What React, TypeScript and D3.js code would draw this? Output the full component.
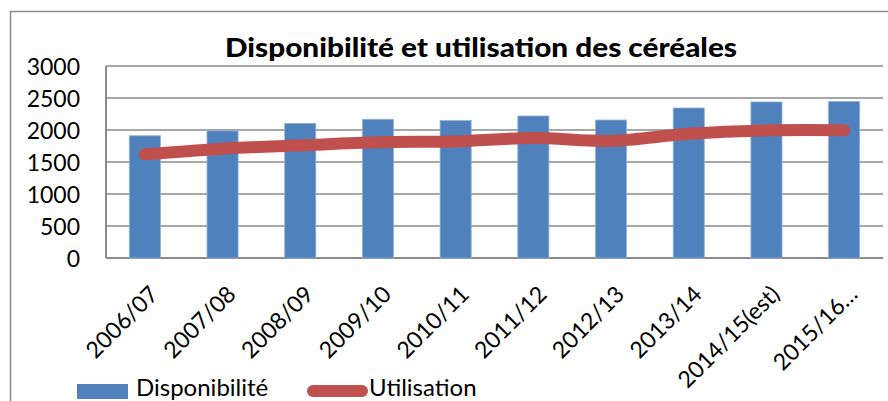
import React from "react";
import * as d3 from "d3";

const categories = [
  "2006/07",
  "2007/08",
  "2008/09",
  "2009/10",
  "2010/11",
  "2011/12",
  "2012/13",
  "2013/14",
  "2014/15(est)",
  "2015/16…",
];
const disponibilite = [1910, 1985, 2102, 2167, 2147, 2219, 2156, 2344, 2438, 2444];
const utilisation = [1620, 1708, 1760, 1808, 1822, 1875, 1830, 1940, 1995, 1998];
const yTicks = [0, 500, 1000, 1500, 2000, 2500, 3000];

const W = 888;
const H = 401;
const plot = { left: 106, right: 883, top: 66, bottom: 258 };
const FONT = "Lato, 'Noto Sans', sans-serif";
const GRID = "#8a8a8a";

export default function App() {
  const x = d3
    .scaleBand<string>()
    .domain(categories)
    .range([plot.left, plot.right])
    .paddingInner(0.6)
    .paddingOuter(0.3);
  const cx = (c: string) => (x(c) as number) + x.bandwidth() / 2;
  const y = d3.scaleLinear().domain([0, 3000]).range([plot.bottom, plot.top]);

  const line = d3
    .line<number>()
    .x((_, i) => cx(categories[i]))
    .y((v) => y(v))
    .curve(d3.curveCatmullRom.alpha(0.5));

  return (
    <svg
      width={W}
      height={H}
      style={{ position: "absolute", left: 0, top: 0, background: "#fff" }}
      fontFamily={FONT}
    >
      {/* outer chart border */}
      <path d={`M10.5,${H} L10.5,11.5 L${W},11.5`} fill="none" stroke={GRID} strokeWidth={1.5} />

      {/* title */}
      <text
        x={481}
        y={57}
        textAnchor="middle"
        fontSize={27}
        fontWeight={900}
        fill="#000"
        textLength={512}
        lengthAdjust="spacingAndGlyphs"
      >
        Disponibilité et utilisation des céréales
      </text>

      {/* grid lines */}
      {yTicks.map((t) => (
        <line
          key={t}
          x1={plot.left}
          x2={plot.right}
          y1={y(t)}
          y2={y(t)}
          stroke={GRID}
          strokeWidth={t === 0 ? 2 : 1.6}
        />
      ))}
      {/* y axis line */}
      <line x1={plot.left} x2={plot.left} y1={plot.top} y2={plot.bottom} stroke={GRID} strokeWidth={2} />

      {/* y tick labels */}
      {yTicks.map((t) => (
        <text key={t} x={80} y={y(t) + 8.5} textAnchor="end" fontSize={23} fill="#000">
          {t}
        </text>
      ))}

      {/* bars */}
      {categories.map((c, i) => (
        <rect
          key={c}
          x={x(c)}
          y={y(disponibilite[i])}
          width={x.bandwidth()}
          height={y(0) - y(disponibilite[i])}
          fill="#4F81BD"
          stroke="#8FB0DA"
          strokeWidth={0.8}
        />
      ))}

      {/* line */}
      <path
        d={line(utilisation) || ""}
        fill="none"
        stroke="#C0504D"
        strokeWidth={12}
        strokeLinecap="round"
        strokeLinejoin="round"
      />

      {/* x labels */}
      {categories.map((c) => (
        <text
          key={c}
          transform={`translate(${cx(c) + 3},${284}) rotate(-45)`}
          textAnchor="end"
          dy="0.72em"
          fontSize={23}
          fill="#000"
        >
          {c}
        </text>
      ))}

      {/* legend */}
      <rect x={77} y={384} width={51} height={15} fill="#4F81BD" />
      <text x={136} y={396} fontSize={24} fill="#000">
        Disponibilité
      </text>
      <line x1={313} x2={362} y1={391} y2={391} stroke="#C0504D" strokeWidth={12} strokeLinecap="round" />
      <text x={369} y={396} fontSize={24} fill="#000">
        Utilisation
      </text>
    </svg>
  );
}
